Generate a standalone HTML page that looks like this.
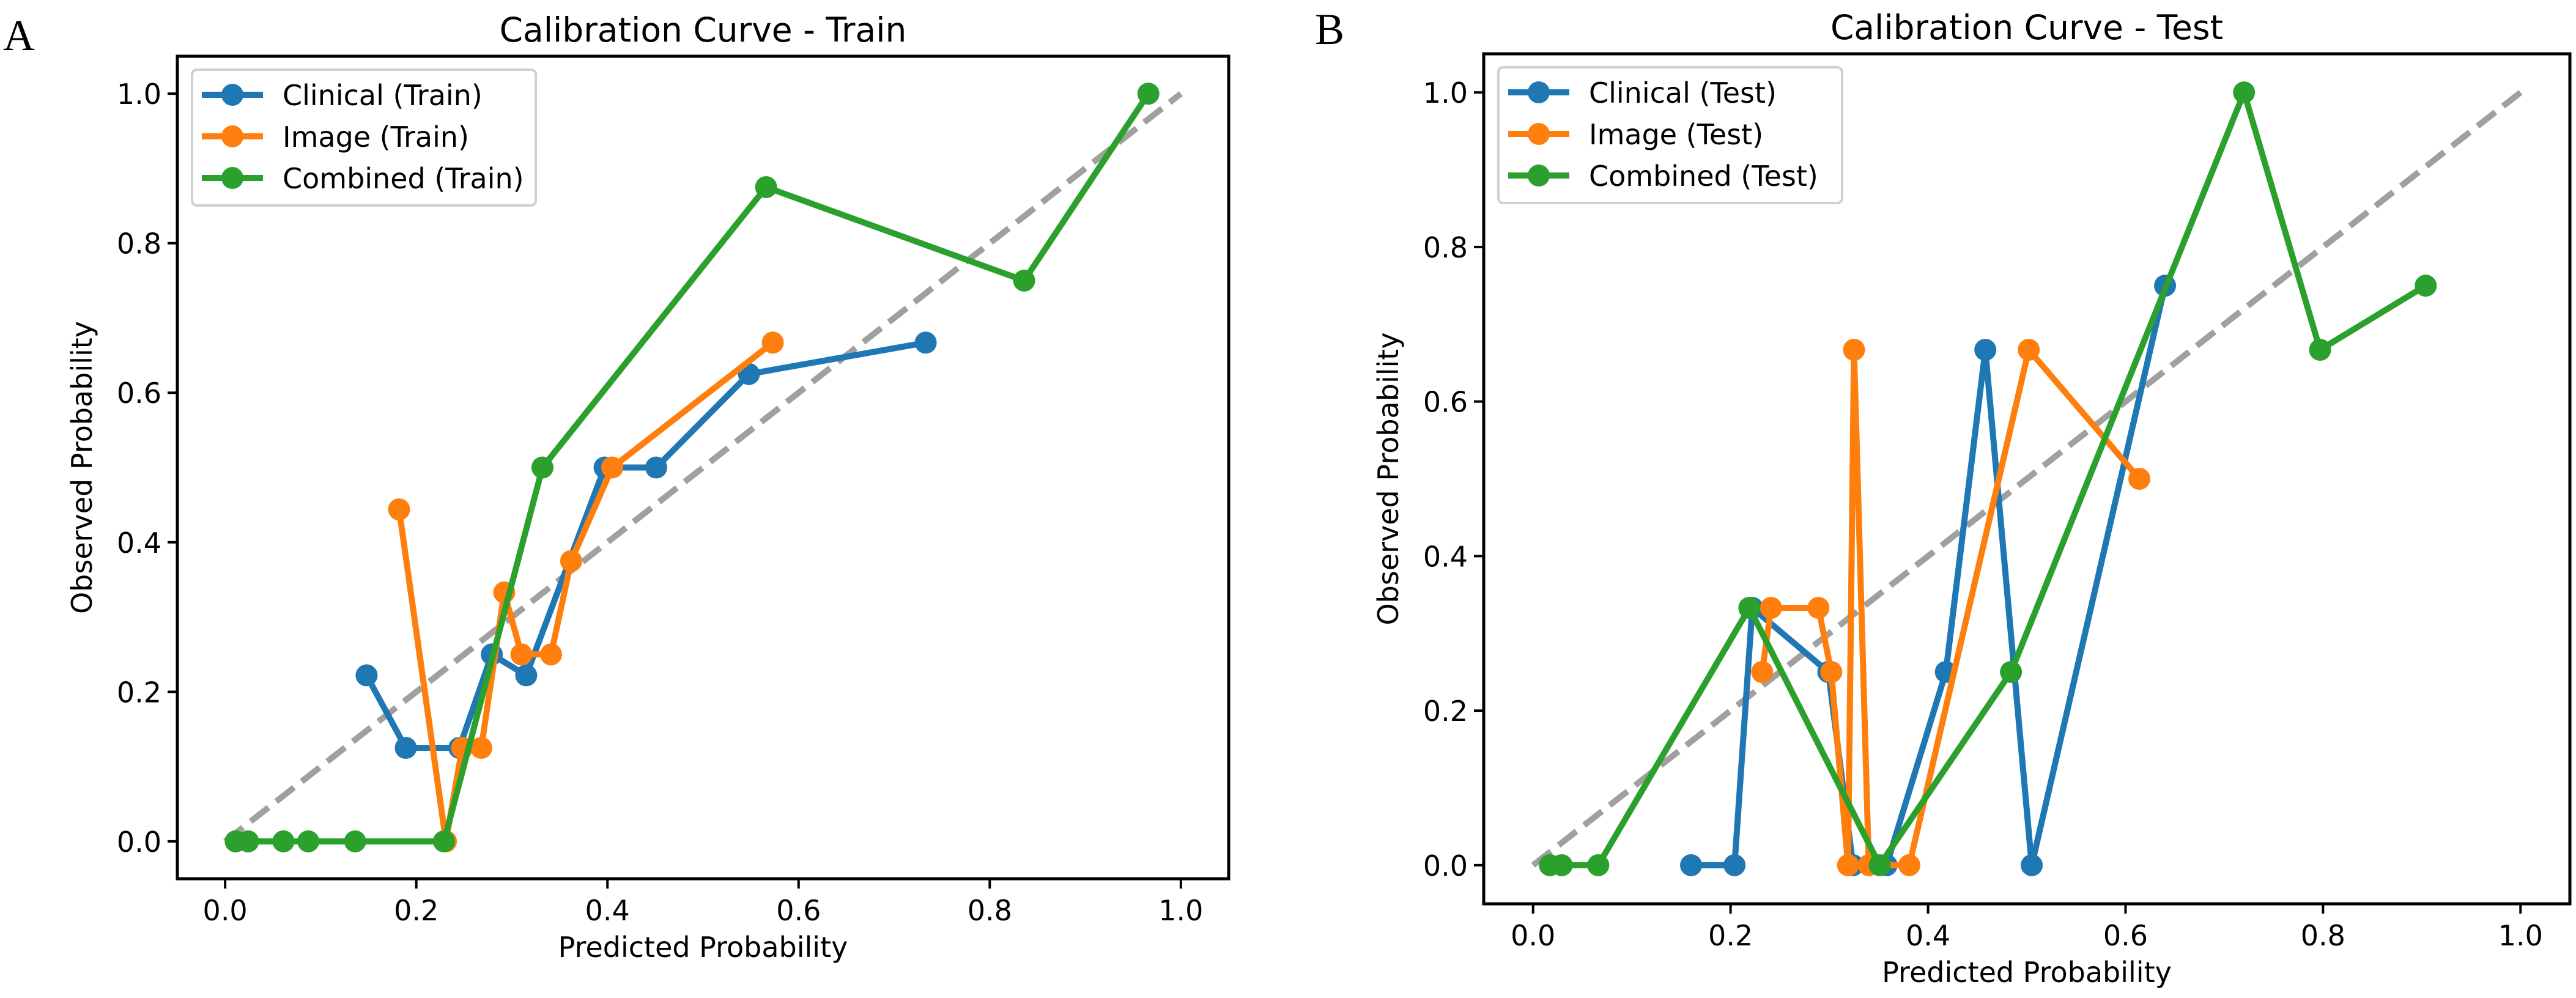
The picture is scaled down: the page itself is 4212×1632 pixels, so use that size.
<!DOCTYPE html>
<html><head><meta charset="utf-8"><style>
html,body{margin:0;padding:0;background:#fff;}
svg{display:block;}
text{font-family:"DejaVu Sans","Liberation Sans",sans-serif;fill:#000;}
</style></head><body>
<svg id="fig" width="4212" height="1632" viewBox="0 0 4212 1632" xmlns="http://www.w3.org/2000/svg">
<rect width="4212" height="1632" fill="#fff"/>
<text x="5" y="82" style="font-family:'Liberation Serif',serif;font-size:72px">A</text>
<text x="2150" y="72" style="font-family:'Liberation Serif',serif;font-size:72px">B</text>
</svg>
<script>
// ---- data: Train panel ----
const trainClinicalX = [0.148,0.189,0.245,0.279,0.315,0.397,0.451,0.548,0.733];
const trainClinicalY = [0.222,0.125,0.125,0.25,0.222,0.5,0.5,0.625,0.667];
const trainImageX = [0.182,0.231,0.248,0.268,0.292,0.310,0.341,0.362,0.405,0.573];
const trainImageY = [0.444,0.0,0.125,0.125,0.333,0.25,0.25,0.375,0.5,0.667];
const trainCombinedX = [0.011,0.024,0.061,0.087,0.136,0.229,0.332,0.566,0.836,0.966];
const trainCombinedY = [0,0,0,0,0,0,0.5,0.875,0.75,1.0];
// ---- data: Test panel ----
const testClinicalX = [0.160,0.204,0.222,0.299,0.324,0.358,0.418,0.458,0.505,0.640];
const testClinicalY = [0,0,0.333,0.25,0,0,0.25,0.667,0,0.75];
const testImageX = [0.232,0.241,0.289,0.302,0.319,0.325,0.340,0.381,0.502,0.614];
const testImageY = [0.25,0.333,0.333,0.25,0,0.667,0,0,0.667,0.5];
const testCombinedX = [0.017,0.029,0.066,0.219,0.351,0.484,0.720,0.797,0.904];
const testCombinedY = [0,0,0,0.333,0,0.25,1.0,0.667,0.75];
const tickValues = [0.0,0.2,0.4,0.6,0.8,1.0];
const tickLabels = ["0.0","0.2","0.4","0.6","0.8","1.0"];

const NS = "http://www.w3.org/2000/svg";
const svg = document.getElementById('fig');
const COLORS = ["#1f77b4","#ff7f0e","#2ca02c"];

function mk(tag, attrs, parent){
  const e = document.createElementNS(NS, tag);
  for (const k in attrs) e.setAttribute(k, attrs[k]);
  (parent||svg).appendChild(e);
  return e;
}

function panel(cfg){
  const g = mk('g', {});
  
  
  const L=cfg.left, R=cfg.right, T=cfg.top, B=cfg.bottom;
  const sx = v => L + (v + 0.05) / 1.1 * (R - L);
  const sy = v => B - (v + 0.05) / 1.1 * (B - T);
  // diagonal
  const diag = mk('line', {x1:sx(0), y1:sy(0), x2:sx(1), y2:sy(1), stroke:'#a0a0a0', 'stroke-width':10, 'stroke-dasharray':'37 16'}, g);
  
  
  // series
  cfg.series.forEach((s, i) => {
    const sg = mk('g', {}, g);
    
    
    const pts = s.x.map((xv, j) => sx(xv) + ',' + sy(s.y[j])).join(' ');
    const pl = mk('polyline', {points:pts, fill:'none', stroke:COLORS[i], 'stroke-width':10, 'stroke-linejoin':'round'}, sg);
    
    
    s.x.forEach((xv, j) => {
      const c = mk('circle', {cx:sx(xv), cy:sy(s.y[j]), r:18, fill:COLORS[i]}, sg);
      
      
    });
  });
  // frame
  const fr = mk('rect', {x:L, y:T, width:R-L, height:B-T, fill:'none', stroke:'#000', 'stroke-width':5}, g);
  
  
  // ticks
  tickValues.forEach((v, i) => {
    const xt = mk('line', {x1:sx(v), y1:B, x2:sx(v), y2:B+16, stroke:'#000', 'stroke-width':4}, g);
    
    
    const xl = mk('text', {x:sx(v), y:B+68, 'text-anchor':'middle', 'font-size':46}, g);
    xl.textContent = tickLabels[i];
    
    
    const yt = mk('line', {x1:L-16, y1:sy(v), x2:L, y2:sy(v), stroke:'#000', 'stroke-width':4}, g);
    
    
    const yl = mk('text', {x:L-26, y:sy(v)+17, 'text-anchor':'end', 'font-size':46}, g);
    yl.textContent = tickLabels[i];
    
    
  });
  // title & labels
  const cx = (L+R)/2, cy = (T+B)/2;
  const t = mk('text', {x:cx, y:T-24, 'text-anchor':'middle', 'font-size':55}, g);
  t.textContent = cfg.title;
  
  
  const xa = mk('text', {x:cx, y:B+128, 'text-anchor':'middle', 'font-size':46}, g);
  xa.textContent = 'Predicted Probability';
  
  
  const ya = mk('text', {x:0, y:0, 'text-anchor':'middle', 'font-size':46, transform:'translate('+(L-140)+','+cy+') rotate(-90)'}, g);
  ya.textContent = 'Observed Probability';
  
  
  // legend
  const lg = mk('g', {}, g);
  
  
  const lx = L + 24, ly = T + 22;
  const lr = mk('rect', {x:lx, y:ly, width:cfg.legendW, height:222, rx:8, fill:'#fff', 'fill-opacity':0.8, stroke:'#d0d0d0', 'stroke-width':4}, lg);
  
  
  cfg.series.forEach((s, i) => {
    const ey = ly + 41 + i * 68;
    const eg = mk('g', {}, lg);
    
    
    mk('line', {x1:lx+16, y1:ey, x2:lx+116, y2:ey, stroke:COLORS[i], 'stroke-width':10}, eg);
    mk('circle', {cx:lx+66, cy:ey, r:18, fill:COLORS[i]}, eg);
    const et = mk('text', {x:lx+148, y:ey+17, 'font-size':46}, eg);
    et.textContent = s.label;
  });
}

panel({name:'train-chart', title:'Calibration Curve - Train', left:290, right:2009, top:92, bottom:1437, legendW:562,
  series:[
    {id:'clinical-train', label:'Clinical (Train)', x:trainClinicalX, y:trainClinicalY},
    {id:'image-train', label:'Image (Train)', x:trainImageX, y:trainImageY},
    {id:'combined-train', label:'Combined (Train)', x:trainCombinedX, y:trainCombinedY}
  ]});
panel({name:'test-chart', title:'Calibration Curve - Test', left:2426, right:4202, top:88, bottom:1478, legendW:562,
  series:[
    {id:'clinical-test', label:'Clinical (Test)', x:testClinicalX, y:testClinicalY},
    {id:'image-test', label:'Image (Test)', x:testImageX, y:testImageY},
    {id:'combined-test', label:'Combined (Test)', x:testCombinedX, y:testCombinedY}
  ]});
</script>
</body></html>
